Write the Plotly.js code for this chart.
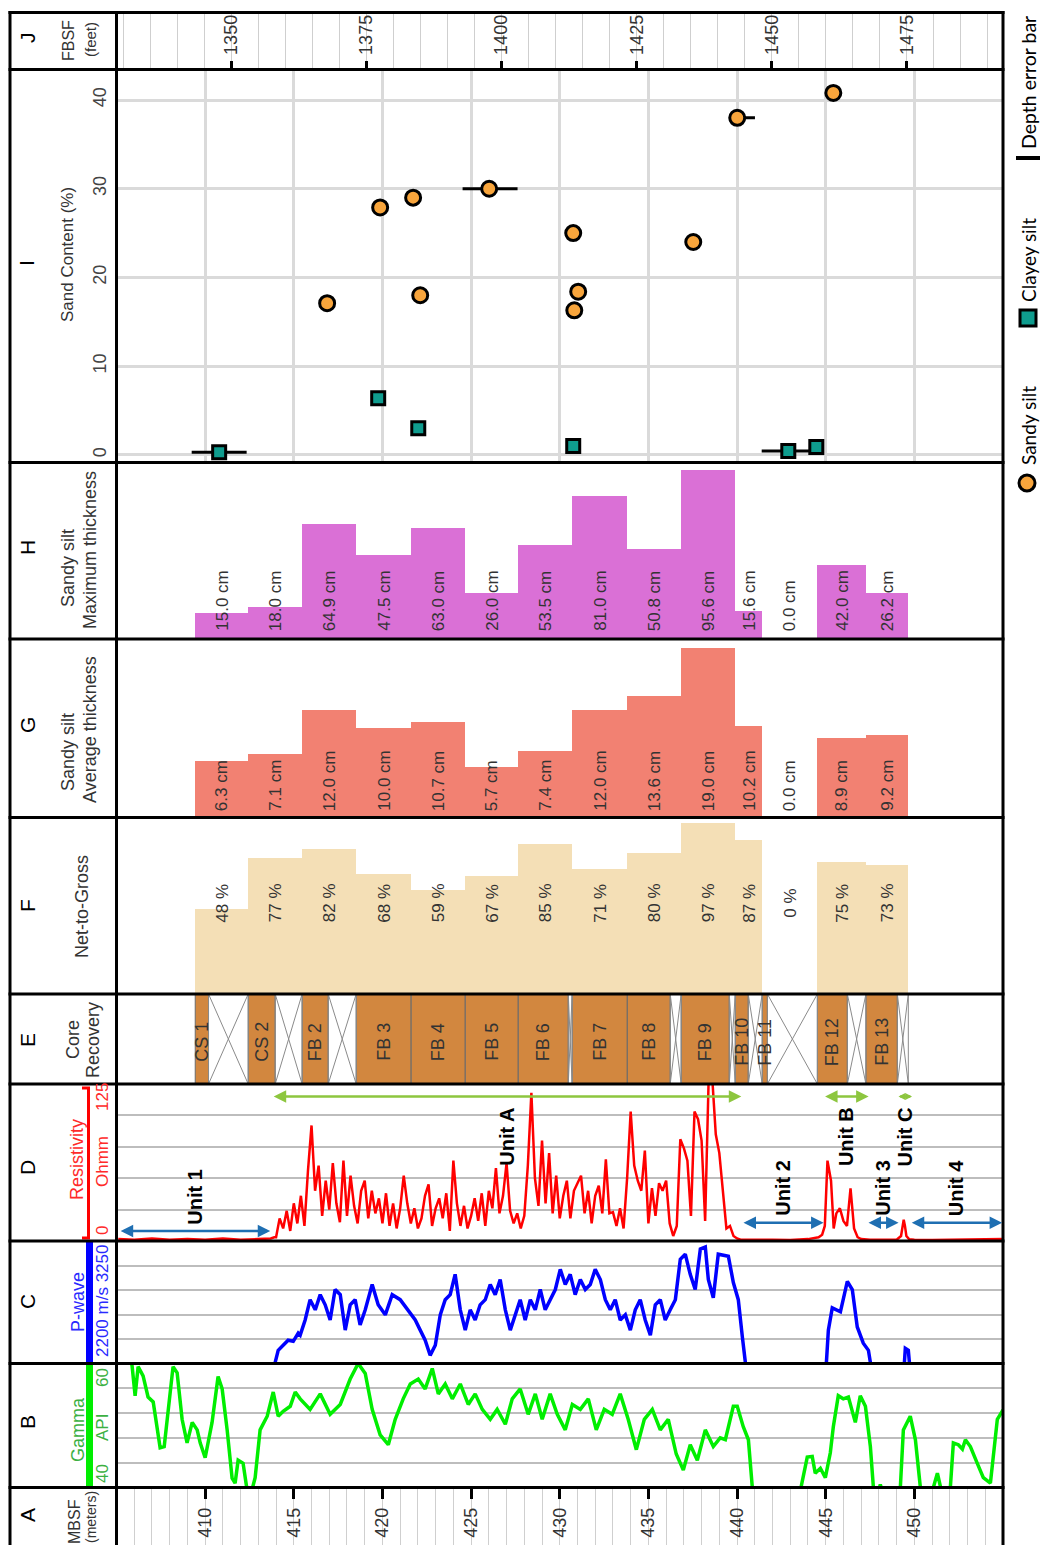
<!DOCTYPE html>
<html>
<head>
<meta charset="utf-8">
<script src="https://cdn.plot.ly/plotly-3.0.1.min.js"></script>
<style>html,body{margin:0;padding:0;background:#fff}#chart{width:1042px;height:1545px}</style>
</head>
<body>
<div id="chart"></div>
<script>
// ---------------- data ----------------
const depthRange = [405, 455];          // metres below seafloor
const metresPerFoot = 0.3048;

const mbsfTicks = [410, 415, 420, 425, 430, 435, 440, 445, 450];
const fbsfTicks = [1350, 1375, 1400, 1425, 1450, 1475];
const sandTicks = [0, 10, 20, 30, 40];

// Gamma ray log (API)
const gammaDepth = [405.77,405.88,406.05,406.22,406.50,406.78,407.07,407.29,407.46,407.69,407.91,408.19,408.42,408.70,408.98,409.27,409.55,409.72,410.00,410.39,410.73,410.96,411.24,411.52,411.69,411.86,412.14,412.37,412.54,412.82,413.10,413.50,413.84,414.12,414.40,414.80,415.08,415.36,415.92,416.49,417.05,417.62,418.18,418.63,419.03,419.42,419.87,420.33,420.72,421.17,421.57,422.02,422.41,422.81,423.15,423.54,423.94,424.39,424.84,425.23,425.63,426.08,426.47,426.93,427.32,427.77,428.22,428.62,429.01,429.46,429.86,430.31,430.71,431.16,431.61,432.06,432.51,432.96,433.41,433.86,434.32,434.77,435.22,435.67,436.12,436.57,436.97,437.36,437.76,438.21,438.66,439.05,439.34,439.79,440.01,440.35,440.64,440.86,441.03,441.88,443.00,443.57,443.96,444.24,444.41,444.70,444.98,445.26,445.43,445.71,445.99,446.28,446.67,446.95,447.24,447.52,447.69,447.86,448.08,448.31,448.93,449.21,449.38,449.77,450.06,450.34,450.62,451.07,451.30,451.47,451.64,452.03,452.20,452.48,452.71,452.88,453.16,453.55,453.89,454.29,454.68,454.85,455.00];
const gammaAPI = [61.0,59.6,54.8,59.5,58.0,54.6,53.8,50.0,46.4,46.6,52.6,59.5,58.5,51.0,47.2,50.5,49.3,47.2,44.8,50.5,57.9,55.9,49.3,41.5,40.7,44.4,43.9,39.5,38.5,41.6,49.3,51.5,55.4,51.5,52.3,53.1,55.4,54.3,52.6,55.1,51.8,53.4,57.5,60.0,58.4,52.6,48.5,46.9,51.0,54.3,56.7,57.5,55.9,59.2,55.1,56.7,54.3,56.7,53.4,55.1,52.6,51.0,52.6,50.2,54.3,55.9,51.8,55.1,51.0,55.1,51.8,49.3,53.4,52.6,54.3,49.3,52.6,51.8,55.1,51.0,46.1,51.0,52.6,49.3,51.0,45.4,42.8,46.9,44.4,49.3,46.6,48.0,47.7,53.1,53.1,49.8,47.7,40.0,38.0,36.0,36.0,39.5,44.9,45.0,42.3,43.1,41.6,45.6,49.8,54.8,54.3,54.6,50.5,54.8,53.1,46.6,40.0,38.0,40.5,38.0,37.0,40.0,49.3,51.5,47.7,40.0,38.0,40.0,42.3,40.0,38.0,40.0,47.2,46.9,46.2,47.7,46.6,43.9,41.6,40.7,51.0,51.8,52.5];

// P-wave velocity log (m/s)
const pwaveDepth = [413.95,414.12,414.40,414.68,414.97,415.25,415.36,415.64,415.92,416.21,416.49,416.77,417.05,417.33,417.62,417.90,418.18,418.46,418.74,419.03,419.42,419.76,420.16,420.55,421.00,421.45,421.85,422.13,422.41,422.69,422.98,423.26,423.54,423.82,424.10,424.39,424.67,424.95,425.23,425.51,425.80,426.08,426.36,426.64,426.93,427.21,427.49,427.77,428.05,428.34,428.62,428.90,429.18,429.46,429.75,430.03,430.31,430.59,430.87,431.16,431.44,431.72,432.00,432.29,432.57,432.85,433.13,433.41,433.70,433.98,434.26,434.54,434.82,435.11,435.39,435.67,435.95,436.23,436.52,436.80,437.08,437.36,437.64,437.93,438.21,438.38,438.66,438.94,439.51,439.79,440.07,440.30,440.47,442.50,445.04,445.15,445.37,445.83,446.22,446.50,446.78,447.12,447.41,447.52,448.50,449.44,449.49,449.66,449.72];
const pwaveVel = [2209,2313,2356,2400,2390,2460,2443,2573,2747,2660,2790,2703,2573,2834,2790,2486,2703,2747,2530,2660,2877,2703,2617,2790,2747,2660,2573,2486,2400,2270,2356,2617,2747,2790,2964,2660,2486,2660,2573,2703,2747,2877,2790,2920,2660,2486,2617,2747,2573,2747,2660,2834,2660,2747,2834,3007,2877,2964,2790,2920,2834,2877,3007,2920,2747,2660,2747,2573,2617,2486,2660,2747,2573,2443,2703,2747,2573,2660,2747,3094,3137,2964,2834,3181,3198,2920,2764,3137,3120,2894,2747,2426,2209,null,2209,2486,2677,2643,2903,2834,2513,2374,2313,2209,null,2209,2330,2313,2209];

// Resistivity log (ohm-m)
const resDepth = [405.10,406.00,407.00,408.00,409.00,410.00,411.00,412.00,413.00,413.70,413.90,
  414.0,414.2,414.4,414.6,414.8,415.0,415.2,415.4,415.6,415.8,
  416.0,416.2,416.4,416.6,416.8,417.0,417.2,417.4,417.6,417.8,
  418.0,418.2,418.4,418.6,418.8,419.0,419.2,419.4,419.6,419.8,
  420.0,420.2,420.4,420.6,420.8,421.0,421.2,421.4,421.6,421.8,
  422.0,422.2,422.4,422.6,422.8,423.0,423.2,423.4,423.6,423.8,
  424.0,424.2,424.4,424.6,424.8,425.0,425.2,425.4,425.6,425.8,
  426.0,426.2,426.4,426.6,426.8,427.0,427.2,427.4,427.6,427.8,
  428.0,428.2,428.4,428.6,428.8,429.0,429.2,429.4,429.6,429.8,
  430.0,430.2,430.4,430.6,430.8,431.0,431.2,431.4,431.6,431.8,
  432.0,432.2,432.4,432.6,432.8,433.0,433.2,433.4,433.6,433.8,
  434.0,434.2,434.4,434.6,434.8,435.0,435.2,435.4,435.6,435.8,
  436.0,436.2,436.4,436.6,436.8,437.0,437.2,437.4,437.6,437.8,
  438.0,438.2,438.4,438.6,438.8,439.0,439.2,439.4,439.6,439.8,
  440.0,440.2,
  440.4,441.0,442.0,443.0,444.0,444.6,444.8,444.95,445.1,445.3,445.45,445.6,445.8,446.0,446.2,446.4,446.6,446.8,447.0,447.5,448.0,448.5,449.0,449.25,449.4,449.47,449.55,449.7,450.0,451.0,452.0,453.0,454.0,455.0];
const resOhmm = [1.5,1,2,1,1.5,1,2,1,1.5,2,3,
  3,18,10,24,8,30,14,36,12,56,
  92,40,60,20,48,25,62,30,15,64,
  20,52,28,14,40,48,18,40,22,34,
  14,38,12,30,10,26,52,30,14,26,
  10,18,36,45,12,26,34,18,38,8,
  64,30,12,28,10,20,34,16,38,12,
  40,26,58,22,36,62,24,14,22,10,
  20,60,118,50,28,80,30,70,22,52,
  18,36,48,18,40,46,52,22,40,14,
  36,44,22,65,22,23,12,26,10,50,
  103,60,48,40,72,14,42,20,46,40,
  48,14,4,12,81,74,64,20,103,97,
  80,16,130,130,85,70,42,10,12,4,
  2,1,
  1,0.8,1,0.8,1.5,3,5,12,64,48,10,22,26,16,12,42,10,3,1.5,1,1,0.8,1,4,17,12,4,1.5,1,0.8,1,0.8,1,1.5];

// Cores: interval tops/bases and recovered base (m)
const coreNames = ['CS 1','CS 2','FB 2','FB 3','FB 4','FB 5','FB 6','FB 7','FB 8','FB 9','FB 10','FB 11','FB 12','FB 13'];
const coreTop = [409.44,412.43,415.47,418.52,421.62,424.67,427.66,430.70,433.81,436.85,439.90,441.42,444.53,447.27];
const coreBase = [412.43,415.47,418.52,421.62,424.67,427.66,430.70,433.81,436.85,439.90,441.42,444.53,447.27,449.66];
const recoveredBase = [410.19,413.95,416.94,421.62,424.67,427.66,430.48,433.81,436.23,439.56,440.63,441.71,446.22,449.04];

const netToGross = [48,77,82,68,59,67,85,71,80,97,87,0,75,73];          // %
const avgThickness = [6.3,7.1,12.0,10.0,10.7,5.7,7.4,12.0,13.6,19.0,10.2,0.0,8.9,9.2];   // cm
const maxThickness = [15.0,18.0,64.9,47.5,63.0,26.0,53.5,81.0,50.8,95.6,15.6,0.0,42.0,26.2]; // cm

// Sand content of samples (%)
const sandyDepth = [416.88,419.87,421.73,422.13,426.02,430.76,431.04,430.82,437.53,440.01,445.43];
const sandyPct = [17.1,27.9,29.0,18.0,30.0,25.0,18.4,16.3,24.0,38.0,40.8];
const sandyErrPlus = [0,0,0,0,1.6,0,0,0,0,1.0,0];
const sandyErrMinus = [0,0,0,0,1.5,0,0,0,0,0,0];
const clayeyDepth = [410.79,419.76,422.02,430.76,442.89,444.47];
const clayeyPct = [0.3,6.4,3.0,1.0,0.45,0.9];
const clayeyErr = [1.55,0,0,0,1.5,0];

// Lithostratigraphic units
const unitNames = ['Unit 1','Unit 2','Unit 3','Unit 4'];
const unitTop = [405.15,440.28,447.33,449.77];
const unitBase = [413.67,444.88,449.11,454.95];
const subUnitNames = ['Unit A','Unit B','Unit C'];
const subUnitTop = [413.78,444.88,449.02];
const subUnitBase = [440.24,447.42,449.87];

// ---------------- layout helpers ----------------
const W = 1042, H = 1545;
const FONT = 'Liberation Sans, Arial, sans-serif';
const fx = x => x / W;
const fy = y => 1 - y / H;
const dom = (t, b) => [1 - b / H, 1 - t / H];
const xDom = [116.5 / W, 1003 / W];

const edges = {J:[12.5,69.5], I:[69.5,462.5], H:[462.5,639], G:[639,817.5], F:[817.5,994],
               E:[994,1084], D:[1084,1241], C:[1241,1363.5], B:[1363.5,1487.5], A:[1487.5,1545]};

function xAx(extra) {
  return Object.assign({domain: xDom, range: depthRange, showgrid: false, zeroline: false,
    showticklabels: false, ticks: '', showline: false, fixedrange: true}, extra || {});
}
function yAx(panel, anchor, extra) {
  return Object.assign({domain: dom(edges[panel][0], edges[panel][1]), anchor: anchor,
    showgrid: false, zeroline: false, showticklabels: false, ticks: '', showline: false, fixedrange: true}, extra || {});
}
const logGrid = {showgrid: true, gridcolor: '#bdbdbd', gridwidth: 2};

const centers = coreTop.map((t, i) => (t + coreBase[i]) / 2);
const widths = coreTop.map((t, i) => coreBase[i] - t);

// ---------------- traces ----------------
const traces = [];
traces.push({x: depthRange, y: [0, 0], xaxis: 'x', yaxis: 'y', mode: 'lines', line: {width: 0}, hoverinfo: 'skip'});
traces.push({x: gammaDepth, y: gammaAPI, xaxis: 'x2', yaxis: 'y2', mode: 'lines',
  line: {color: '#00ee00', width: 3.5}, hoverinfo: 'skip'});
traces.push({x: pwaveDepth, y: pwaveVel, xaxis: 'x3', yaxis: 'y3', mode: 'lines', connectgaps: false,
  line: {color: '#0000ff', width: 3.5}, hoverinfo: 'skip'});
traces.push({x: resDepth, y: resOhmm, xaxis: 'x4', yaxis: 'y4', mode: 'lines',
  line: {color: '#ff0000', width: 2.5}, hoverinfo: 'skip'});

// core recovery: recovered sections as bars, missing sections crossed out
traces.push({type: 'bar', xaxis: 'x5', yaxis: 'y5',
  x: coreTop.map((t, i) => (t + recoveredBase[i]) / 2),
  width: coreTop.map((t, i) => recoveredBase[i] - t),
  y: coreTop.map(() => 1), base: 0,
  marker: {color: '#d2873f', line: {color: '#6b6b6b', width: 1}}, hoverinfo: 'skip'});
const crossX = [], crossY = [];
coreTop.forEach((t, i) => {
  const a = recoveredBase[i], b = coreBase[i];
  if (b - a > 0.01) {
    crossX.push(a, b, null, a, b, null, a, a, null, b, b, null);
    crossY.push(0, 1, null, 1, 0, null, 0, 1, null, 0, 1, null);
  }
});
traces.push({x: crossX, y: crossY, xaxis: 'x5', yaxis: 'y5', mode: 'lines',
  line: {color: '#8a8a8a', width: 1}, hoverinfo: 'skip'});

traces.push({type: 'bar', x: centers, width: widths, y: netToGross, xaxis: 'x6', yaxis: 'y6',
  marker: {color: '#f4dfb6', line: {width: 0}}, hoverinfo: 'skip'});
traces.push({type: 'bar', x: centers, width: widths, y: avgThickness, xaxis: 'x7', yaxis: 'y7',
  marker: {color: '#f28172', line: {width: 0}}, hoverinfo: 'skip'});
traces.push({type: 'bar', x: centers, width: widths, y: maxThickness, xaxis: 'x8', yaxis: 'y8',
  marker: {color: '#da70d6', line: {width: 0}}, hoverinfo: 'skip'});

traces.push({x: clayeyDepth, y: clayeyPct, xaxis: 'x9', yaxis: 'y9', mode: 'markers',
  error_x: {type: 'data', symmetric: true, array: clayeyErr, color: '#000', thickness: 3, width: 0},
  marker: {symbol: 'square', size: 13, color: '#0f9c8e', line: {color: '#000', width: 3}}, hoverinfo: 'skip'});
traces.push({x: sandyDepth, y: sandyPct, xaxis: 'x9', yaxis: 'y9', mode: 'markers',
  error_x: {type: 'data', symmetric: false, array: sandyErrPlus, arrayminus: sandyErrMinus, color: '#000', thickness: 3, width: 0},
  marker: {symbol: 'circle', size: 15, color: '#f8a53c', line: {color: '#000', width: 3}}, hoverinfo: 'skip'});

traces.push({x: depthRange.map(d => d / metresPerFoot), y: [0, 0], xaxis: 'x10', yaxis: 'y10', mode: 'lines',
  line: {width: 0}, hoverinfo: 'skip'});

// ---------------- annotations ----------------
const ann = [];
function rot(text, x, y, size, color, extra) {
  ann.push(Object.assign({text: text, xref: 'paper', yref: 'paper', x: fx(x), y: fy(y),
    xanchor: 'center', yanchor: 'middle', textangle: -90, showarrow: false,
    font: {family: FONT, size: size, color: color}}, extra || {}));
}
// panel letters
[['A',1515],['B',1422],['C',1302],['D',1168],['E',1040],['F',906],['G',725],['H',548],['I',263],['J',38]]
  .forEach(p => rot(p[0], 27, p[1], 21, '#000'));
// panel labels
rot('MBSF', 74, 1522, 16, '#333');
rot('(meters)', 91, 1517, 14, '#333');
rot('Gamma', 78, 1430, 18, '#3cb043');
rot('40', 102, 1474, 17, '#3cb043');
rot('API', 102, 1428, 17, '#3cb043');
rot('60', 102, 1378, 17, '#3cb043');
rot('P-wave', 78, 1302, 18, '#2a2aff');
rot('2200 m/s 3250', 102, 1301, 17, '#2a2aff');
rot('Resistivity', 77, 1160, 18, '#ff2a2a');
rot('0', 102, 1231, 17, '#ff2a2a');
rot('Ohmm', 102, 1162, 17, '#ff2a2a');
rot('125', 102, 1097, 17, '#ff2a2a');
rot('Core', 73, 1040, 18, '#333');
rot('Recovery', 93, 1040, 18, '#333');
rot('Net-to-Gross', 82, 907, 18, '#333');
rot('Sandy silt', 68, 752, 18, '#333');
rot('Average thickness', 90, 730, 18, '#333');
rot('Sandy silt', 68, 568, 18, '#333');
rot('Maximum thickness', 90, 550, 18, '#333');
rot('Sand Content (%)', 67, 255, 17, '#333');
rot('FBSF', 68, 41, 16, '#333');
rot('(feet)', 90, 40, 15, '#333');

// bar values
centers.forEach((c, i) => {
  const common = {xref: 'x6', x: c, yref: 'paper', textangle: -90, showarrow: false,
    xanchor: 'center', font: {family: FONT, size: 17, color: '#333'}};
  ann.push(Object.assign({}, common, {text: netToGross[i] + ' %', y: fy(903), yanchor: 'middle'}));
  ann.push(Object.assign({}, common, {xref: 'x7', text: avgThickness[i].toFixed(1) + ' cm', y: fy(813), yanchor: 'bottom'}));
  ann.push(Object.assign({}, common, {xref: 'x8', text: maxThickness[i].toFixed(1) + ' cm', y: fy(633), yanchor: 'bottom'}));
});
// core names
coreNames.forEach((n, i) => {
  ann.push({text: n, xref: 'x5', x: (coreTop[i] + recoveredBase[i]) / 2, yref: 'paper', y: fy(1042),
    textangle: -90, showarrow: false, xanchor: 'center', yanchor: 'middle',
    font: {family: FONT, size: 18, color: '#333'}});
});
// unit arrows and names
function unitArrow(a, b, yv, color, size) {
  ann.push({text: '', xref: 'x4', yref: 'y4', axref: 'x4', ayref: 'y4', x: b, y: yv, ax: a, ay: yv,
    showarrow: true, arrowside: 'end+start', arrowhead: 2, arrowsize: size, arrowwidth: 2.5, arrowcolor: color});
}
unitNames.forEach((n, i) => {
  unitArrow(unitTop[i], unitBase[i], i === 0 ? 8 : 14.5, '#1f6fb2', 1);
  ann.push({text: '<b>' + n + '</b>', xref: 'x4', x: (unitTop[i] + unitBase[i]) / 2, yref: 'paper',
    y: fy(i === 0 ? 1197 : 1188), textangle: -90, showarrow: false, xanchor: 'center', yanchor: 'middle',
    font: {family: FONT, size: 20, color: '#000'}});
});
subUnitNames.forEach((n, i) => {
  const span = subUnitBase[i] - subUnitTop[i];
  unitArrow(subUnitTop[i], subUnitBase[i], 115, '#8dc63f', span < 1.5 ? 0.55 : 1);
  ann.push({text: '<b>' + n + '</b>', xref: 'x4', x: (subUnitTop[i] + subUnitBase[i]) / 2, yref: 'paper',
    y: fy(1137), textangle: -90, showarrow: false, xanchor: 'center', yanchor: 'middle',
    font: {family: FONT, size: 20, color: '#000'}});
});
// key
const KEYFONT = 'Lato, Open Sans, sans-serif';
rot('Sandy silt', 1028, 426, 19, '#000', {font: {family: KEYFONT, size: 19, color: '#000'}});
rot('Clayey silt', 1028, 260, 19, '#000', {font: {family: KEYFONT, size: 19, color: '#000'}});
rot('Depth error bar', 1028, 83, 19.5, '#000', {font: {family: KEYFONT, size: 19.5, color: '#000'}});

// ---------------- shapes ----------------
const shapes = [];
function line(x0, y0, x1, y1, color, width) {
  shapes.push({type: 'line', xref: 'paper', yref: 'paper', x0: fx(x0), y0: fy(y0), x1: fx(x1), y1: fy(y1),
    line: {color: color, width: width}, layer: 'above'});
}
function rect(x0, y0, x1, y1, fill, lineColor, lw) {
  shapes.push({type: 'rect', xref: 'paper', yref: 'paper', x0: fx(x0), y0: fy(y0), x1: fx(x1), y1: fy(y1),
    fillcolor: fill, line: {color: lineColor, width: lw}, layer: 'above'});
}
// colour scale bars in the label column
line(88.5, 1088, 88.5, 1238, '#ff0000', 3);
line(82, 1088, 90, 1088, '#ff0000', 3);
line(82, 1238, 90, 1238, '#ff0000', 3);
rect(86, 1242, 93, 1363, '#0000ff', '#0000ff', 0);
rect(86, 1364, 93, 1487, '#00ee00', '#00ee00', 0);
// frame
[12.5, 69.5, 462.5, 639, 817.5, 994, 1084, 1241, 1363.5, 1487.5].forEach(y => line(8.5, y, 1004.5, y, '#000', 3));
[10, 116.5, 1003].forEach(x => line(x, 11, x, 1545, '#000', 3));
// key symbols
shapes.push({type: 'circle', xref: 'paper', yref: 'paper', x0: fx(1019), x1: fx(1035), y0: fy(491), y1: fy(475),
  fillcolor: '#f8a53c', line: {color: '#000', width: 3}, layer: 'above'});
rect(1020, 326, 1036, 310, '#0f9c8e', '#000', 3);
line(1016, 158, 1040, 158, '#000', 4);

// ---------------- layout ----------------
const layout = {
  width: W, height: H, margin: {l: 0, r: 0, t: 0, b: 0},
  paper_bgcolor: '#fff', plot_bgcolor: 'rgba(0,0,0,0)', showlegend: false,
  font: {family: FONT, color: '#333'},
  bargap: 0,
  xaxis: xAx({anchor: 'free', position: fy(1487.5), side: 'bottom', ticks: 'outside', ticklen: 10,
    tickwidth: 3, tickcolor: '#000', tickmode: 'array', tickvals: mbsfTicks, showticklabels: true,
    tickangle: -90, tickfont: {family: FONT, size: 18, color: '#333'}, ticklabelstandoff: 2,
    minor: {tickmode: 'linear', tick0: 405, dtick: 1, showgrid: true, gridcolor: '#cfcfcf', gridwidth: 1, ticks: ''}}),
  yaxis: yAx('A', 'x', {range: [0, 1]}),
  xaxis2: xAx({anchor: 'y2'}), yaxis2: yAx('B', 'x2', Object.assign({range: [40, 60], tick0: 40, dtick: 4}, logGrid)),
  xaxis3: xAx({anchor: 'y3'}), yaxis3: yAx('C', 'x3', Object.assign({range: [2200, 3250], tick0: 2200, dtick: 210}, logGrid)),
  xaxis4: xAx({anchor: 'y4'}), yaxis4: yAx('D', 'x4', Object.assign({range: [0, 125], tick0: 0, dtick: 25}, logGrid)),
  xaxis5: xAx({anchor: 'y5'}), yaxis5: yAx('E', 'x5', {range: [0, 1]}),
  xaxis6: xAx({anchor: 'y6'}), yaxis6: yAx('F', 'x6', {range: [0, 100]}),
  xaxis7: xAx({anchor: 'y7'}), yaxis7: yAx('G', 'x7', {range: [0, 20]}),
  xaxis8: xAx({anchor: 'y8'}), yaxis8: yAx('H', 'x8', {range: [0, 100]}),
  xaxis9: xAx({anchor: 'y9', showgrid: true, tick0: 0, dtick: 5, gridcolor: '#dadada', gridwidth: 3}),
  yaxis9: yAx('I', 'x9', {range: [-0.85, 43.44], tickmode: 'array', tickvals: sandTicks, showgrid: true,
    gridcolor: '#dadada', gridwidth: 3, showticklabels: true, tickangle: -90, ticklabelstandoff: 6,
    tickfont: {family: FONT, size: 18, color: '#444'}}),
  xaxis10: xAx({anchor: 'free', position: fy(69.5), side: 'top', range: depthRange.map(d => d / metresPerFoot),
    ticks: 'outside', ticklen: 9, tickwidth: 3, tickcolor: '#000', tickmode: 'array', tickvals: fbsfTicks,
    showticklabels: true, tickangle: -90, ticklabelstandoff: 2, tickfont: {family: FONT, size: 18, color: '#333'},
    minor: {tickmode: 'linear', tick0: 1330, dtick: 5, showgrid: true, gridcolor: '#cfcfcf', gridwidth: 1, ticks: ''}}),
  yaxis10: yAx('J', 'x10', {range: [0, 1]}),
  annotations: ann,
  shapes: shapes
};

Plotly.newPlot('chart', traces, layout, {displayModeBar: false, staticPlot: true});
</script>
</body>
</html>
